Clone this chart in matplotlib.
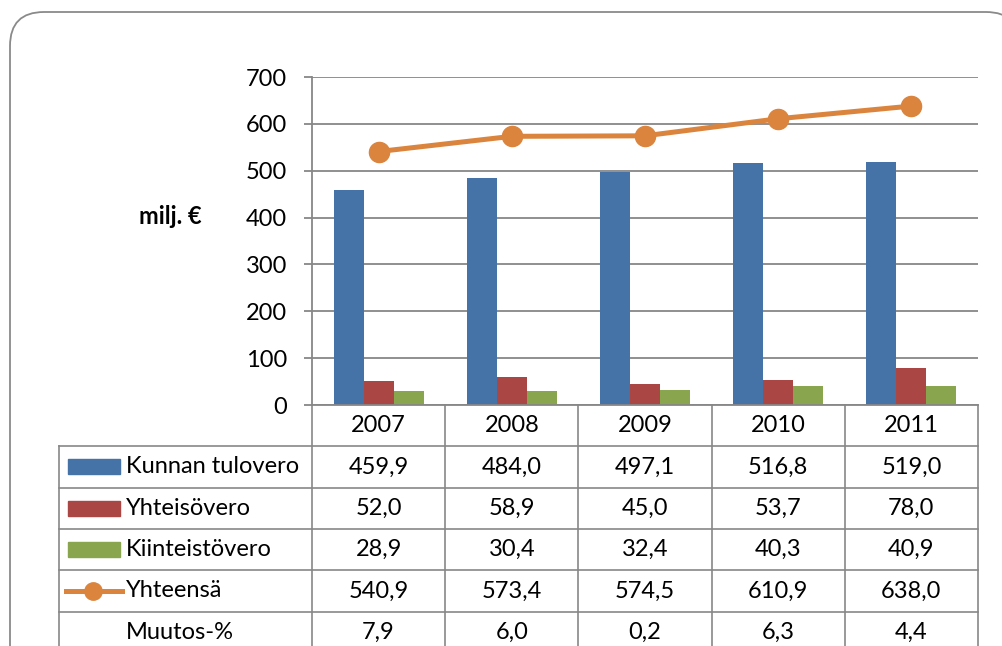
import matplotlib.pyplot as plt
from matplotlib.patches import FancyBboxPatch, Rectangle
from matplotlib.lines import Line2D
from matplotlib.transforms import IdentityTransform

plt.rcParams['font.family'] = ['Lato', 'DejaVu Sans']

years = ['2007', '2008', '2009', '2010', '2011']
kunnan = [459.9, 484.0, 497.1, 516.8, 519.0]
yhteiso = [52.0, 58.9, 45.0, 53.7, 78.0]
kiinteisto = [28.9, 30.4, 32.4, 40.3, 40.9]
yhteensa = [540.9, 573.4, 574.5, 610.9, 638.0]
muutos = [7.9, 6.0, 0.2, 6.3, 4.4]

series_names = ['Kunnan tulovero', 'Yhteisövero', 'Kiinteistövero', 'Yhteensä', 'Muutos-%']
colors = ['#4572A7', '#AA4643', '#89A54E', '#DB843D']
grey = '#878787'
fs = 17

W, H = 1002, 646
fig = plt.figure(figsize=(W / 100, H / 100), dpi=100)

# rounded frame (right and bottom edges run off the picture); filled so agg does not clip it
frame = FancyBboxPatch((10, -80), 1010, H - 12 + 80, boxstyle='round,pad=0,rounding_size=34',
                       transform=IdentityTransform(), facecolor='white', edgecolor='#8a8a8a',
                       lw=1.3, zorder=-5)
fig.add_artist(frame)

L, R, T, B = 312, 978, 77, 405
ax = fig.add_axes([L / W, (H - B) / H, (R - L) / W, (B - T) / H])
ax.patch.set_alpha(0)

x = range(len(years))
bw = 0.225
ax.bar([i - bw for i in x], kunnan, bw, color=colors[0], zorder=2)
ax.bar([i for i in x], yhteiso, bw, color=colors[1], zorder=2)
ax.bar([i + bw for i in x], kiinteisto, bw, color=colors[2], zorder=2)
ax.plot(x, yhteensa, color=colors[3], lw=3.6, marker='o', ms=14.5, zorder=3)

ax.set_xlim(-0.5, 4.5)
ax.set_ylim(0, 700)
ax.set_yticks(range(0, 701, 100))
ax.set_xticks([])
ax.grid(axis='y', color=grey, lw=1.3, zorder=0)
for s in ['top', 'right']:
    ax.spines[s].set_visible(False)
ax.spines['left'].set_color(grey)
ax.spines['bottom'].set_color(grey)
ax.spines['left'].set_linewidth(1.3)
ax.spines['bottom'].set_linewidth(1.3)
ax.tick_params(axis='y', length=5.8, width=1.3, color=grey, labelsize=fs, pad=12)

fig.text(170 / W, (H - 216) / H, 'milj. €', fontsize=fs, fontweight='bold',
         ha='center', va='center')

# data table below the plot area
def ax_x(px):
    return (px - L) / (R - L)

def ax_y(py):
    return (B - py) / (B - T)

rowh = 41.3
colw = (R - L) / len(years)
tl = 59
rows = [B + k * rowh for k in range(7)]

def hline(px0, px1, py):
    ax.add_line(Line2D([ax_x(px0), ax_x(px1)], [ax_y(py), ax_y(py)], transform=ax.transAxes,
                       color=grey, lw=1.2, clip_on=False))

def vline(px, py0, py1):
    ax.add_line(Line2D([ax_x(px), ax_x(px)], [ax_y(py0), ax_y(py1)], transform=ax.transAxes,
                       color=grey, lw=1.2, clip_on=False))

for py in rows[1:]:
    hline(tl, R, py)
for k in range(len(years) + 1):
    vline(L + k * colw, B, rows[-1])
vline(tl, rows[1], rows[-1])

for j, yr in enumerate(years):
    ax.text(ax_x(L + (j + 0.5) * colw), ax_y((rows[0] + rows[1]) / 2), yr,
            transform=ax.transAxes, ha='center', va='center', fontsize=fs)

table_vals = [kunnan, yhteiso, kiinteisto, yhteensa, muutos]
for r, vals in enumerate(table_vals):
    yc = ax_y((rows[r + 1] + rows[r + 2]) / 2)
    for j, v in enumerate(vals):
        ax.text(ax_x(L + (j + 0.5) * colw), yc, f'{v:.1f}'.replace('.', ','),
                transform=ax.transAxes, ha='center', va='center', fontsize=fs)
    ax.text(ax_x(126), yc, series_names[r], transform=ax.transAxes,
            ha='left', va='center', fontsize=fs)
    if r < 3:
        ax.add_patch(Rectangle((ax_x(68), yc - 7.5 / (B - T)), ax_x(120) - ax_x(68), 15 / (B - T),
                               transform=ax.transAxes, color=colors[r], clip_on=False))
    elif r == 3:
        ax.add_line(Line2D([ax_x(66), ax_x(122)], [yc, yc], transform=ax.transAxes,
                           color=colors[3], lw=3.6, clip_on=False))
        ax.add_line(Line2D([ax_x(93)], [yc], transform=ax.transAxes, color=colors[3],
                           marker='o', ms=12.5, clip_on=False))

fig.savefig('out.png', dpi=100)
